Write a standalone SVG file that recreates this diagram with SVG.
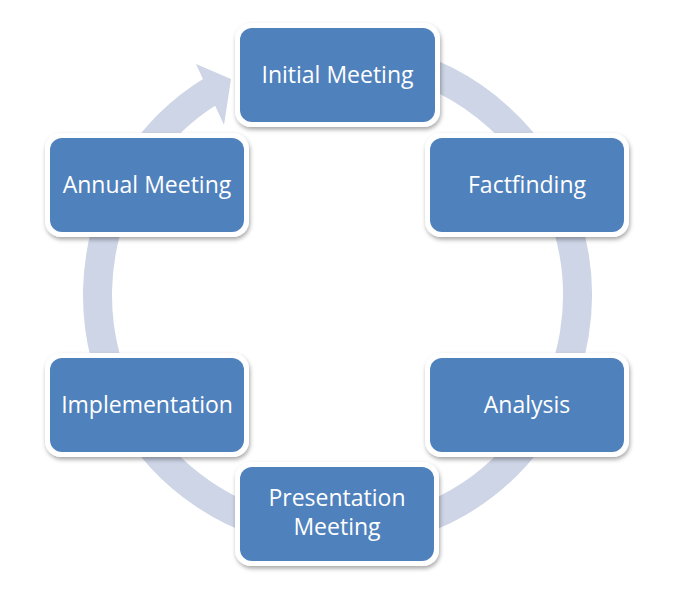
<svg xmlns="http://www.w3.org/2000/svg" width="681" height="609" viewBox="0 0 681 609">
<defs>
<filter id="sh" x="-10%" y="-10%" width="120%" height="130%">
<feDropShadow dx="1" dy="2.5" stdDeviation="2.2" flood-color="#000" flood-opacity="0.35"/>
</filter>
<style>
.frame{fill:#fff;filter:url(#sh)}
.box{fill:#4f81bd}
.lbl{font-family:"Open Sans","Liberation Sans",sans-serif;font-size:23px;fill:#fff;text-anchor:middle}
.ring{fill:none;stroke:#cdd5e6;stroke-width:29}
.head{fill:#cdd5e6}
</style>
</defs>
<rect width="681" height="609" fill="#fff"/>
<g id="connectors">
<path class="ring" d="M 275.4 63.2 A 240 240 0 1 1 212.1 90.4"/>
<polygon class="head" points="196,64 231,79 224,125"/>
</g>
<g id="initial-meeting">
<rect class="frame" x="235" y="23" width="205" height="104" rx="16"/>
<rect class="box" x="240" y="28" width="195" height="94" rx="12"/>
<text class="lbl" x="337.5" y="83">Initial Meeting</text>
</g>
<g id="factfinding">
<rect class="frame" x="425" y="133" width="204" height="104" rx="16"/>
<rect class="box" x="430" y="138" width="194" height="94" rx="12"/>
<text class="lbl" x="527" y="193">Factfinding</text>
</g>
<g id="analysis">
<rect class="frame" x="425" y="353" width="204" height="104" rx="16"/>
<rect class="box" x="430" y="358" width="194" height="94" rx="12"/>
<text class="lbl" x="527" y="413">Analysis</text>
</g>
<g id="presentation-meeting">
<rect class="frame" x="235" y="462" width="204" height="104" rx="16"/>
<rect class="box" x="240" y="467" width="194" height="94" rx="12"/>
<text class="lbl" x="337" y="506">Presentation</text>
<text class="lbl" x="337" y="535">Meeting</text>
</g>
<g id="implementation">
<rect class="frame" x="45" y="353" width="204" height="104" rx="16"/>
<rect class="box" x="50" y="358" width="194" height="94" rx="12"/>
<text class="lbl" x="147" y="413">Implementation</text>
</g>
<g id="annual-meeting">
<rect class="frame" x="45" y="133" width="204" height="104" rx="16"/>
<rect class="box" x="50" y="138" width="194" height="94" rx="12"/>
<text class="lbl" x="147" y="193">Annual Meeting</text>
</g>
</svg>
